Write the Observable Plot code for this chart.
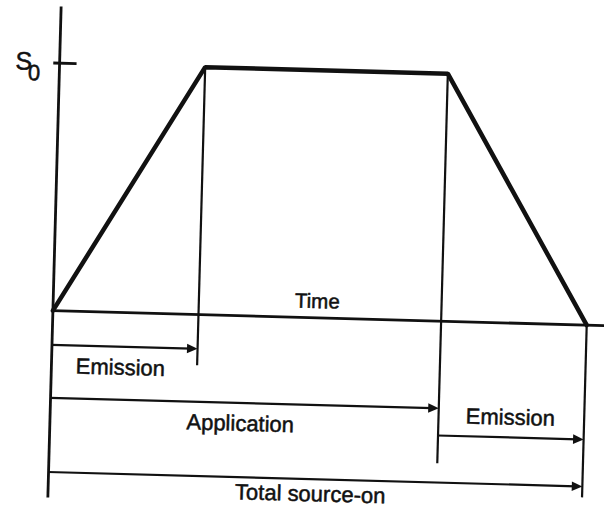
<!DOCTYPE html>
<html>
<head>
<meta charset="utf-8">
<script src="https://cdn.jsdelivr.net/npm/d3@7"></script>
<script src="https://cdn.jsdelivr.net/npm/@observablehq/plot@0.6"></script>
<style>
  html, body { margin: 0; padding: 0; background: #fff; }
  #chart { width: 604px; height: 510px; overflow: hidden; }
  #chart svg { display: block; transform: rotate(1.55deg); transform-origin: 302px 255px; }
</style>
</head>
<body>
<div id="chart"></div>
<script>
// Source strength profile (time in arbitrary units, strength relative to S0)
const profileTime = [0, 3, 8, 11];
const profileStrength = [0, 1, 1, 0];

// Vertical drop lines at phase boundaries
const dropTime = [3, 8, 11];
const dropTop = [1, 1, 0];
const dropBottom = [-0.207, -0.576, -0.698];

// Duration arrows
const arrowStart = [0, 0, 8, 0];
const arrowEnd = [3, 8, 11, 11];
const arrowLevel = [-0.138, -0.352, -0.462, -0.652];

// Text labels
const labelText = ["Time", "Emission", "Application", "Emission", "Total source-on", "S", "0"];
const labelX = [5.44, 1.42, 3.92, 9.48, 5.40, -0.74, -0.52];
const labelY = [0.066, -0.223, -0.436, -0.382, -0.713, 1.003, 0.957];
const labelSize = [20.5, 22, 22, 22, 22, 25, 22];

const profile = profileTime.map((t, i) => ({t, s: profileStrength[i]}));
const drops = dropTime.map((t, i) => ({t, y1: dropTop[i], y2: dropBottom[i]}));
const arrows = arrowStart.map((a, i) => ({a, b: arrowEnd[i], y: arrowLevel[i]}));
const labels = labelText.map((text, i) => ({text, x: labelX[i], y: labelY[i], size: labelSize[i]}));

// Filled arrowhead symbol pointing right, tip at origin
const arrowHead = {
  draw(context, size) {
    const r = Math.sqrt(size / Math.PI);
    context.moveTo(0, 0);
    context.lineTo(-2.2 * r, -r);
    context.lineTo(-2.2 * r, r);
    context.closePath();
  }
};

const ink = "#111";

const chart = Plot.plot({
  width: 604,
  height: 510,
  marginLeft: 54,
  marginRight: 16,
  marginTop: 0,
  marginBottom: 0,
  x: {domain: [0, 11], axis: null},
  y: {domain: [-0.78, 1.28], axis: null},
  style: {fontFamily: "'Liberation Sans', Arial, sans-serif", background: "#fff", overflow: "visible"},
  marks: [
    // time axis
    Plot.ruleY([0], {x1: 0, x2: 11.45, stroke: ink, strokeWidth: 2.8, clip: false}),
    // vertical axis
    Plot.ruleX([0], {y1: -0.757, y2: 1.227, stroke: ink, strokeWidth: 2.8}),
    // S0 tick
    Plot.ruleY([1], {x1: -0.12, x2: 0.36, stroke: ink, strokeWidth: 2.8}),
    // drop lines
    Plot.ruleX(drops, {x: "t", y1: "y1", y2: "y2", stroke: ink, strokeWidth: 2.2}),
    // duration arrow shafts
    Plot.ruleY(arrows, {x1: "a", x2: d => d.b - 0.12, y: "y", stroke: ink, strokeWidth: 2.2}),
    // arrowheads
    Plot.dot(arrows, {x: "b", y: "y", symbol: arrowHead, r: 4.8, fill: ink, stroke: "none"}),
    // source profile
    Plot.line(profile, {x: "t", y: "s", stroke: ink, strokeWidth: 4.5, strokeLinejoin: "miter"}),
    // labels
    Plot.text(labels, {x: "x", y: "y", text: "text", fontSize: "size", fill: ink, stroke: ink, strokeWidth: 0.5, lineAnchor: "middle", textAnchor: "middle"})
  ]
});

document.getElementById("chart").appendChild(chart);
</script>
</body>
</html>
